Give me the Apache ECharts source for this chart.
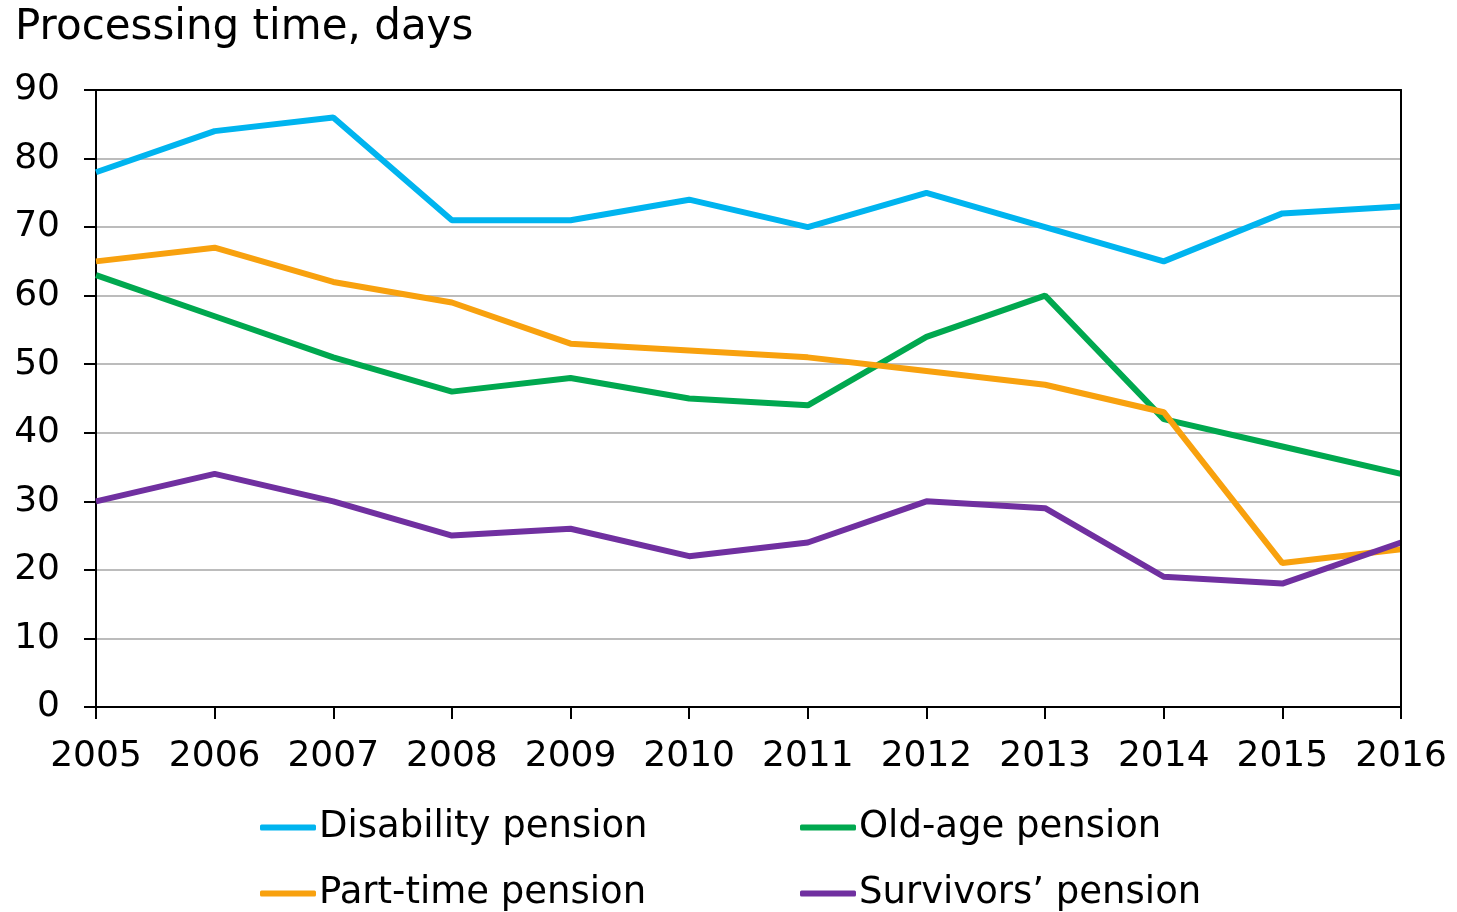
<!DOCTYPE html>
<html>
<head>
<meta charset="utf-8">
<script src="https://cdn.jsdelivr.net/npm/echarts@6/dist/echarts.min.js"></script>
<style>
html,body{margin:0;padding:0;background:#fff;}
#chart{width:1457px;height:912px;}
</style>
</head>
<body>
<div id="chart"></div>
<script>
var years = ['2005','2006','2007','2008','2009','2010','2011','2012','2013','2014','2015','2016'];
var disability = [78, 84, 86, 71, 71, 74, 70, 75, 70, 65, 72, 73];
var oldAge     = [63, 57, 51, 46, 48, 45, 44, 54, 60, 42, 38, 34];
var partTime   = [65, 67, 62, 59, 53, 52, 51, 49, 47, 43, 21, 23];
var survivors  = [30, 34, 30, 25, 26, 22, 24, 30, 29, 19, 18, 24];
var seriesNames = ['Disability pension', 'Old-age pension', 'Part-time pension', 'Survivors\u2019 pension'];
var seriesColors = ['#00b4ef', '#00a84f', '#f8a10e', '#7030a0'];
var yTicks = { min: 0, max: 90, interval: 10 };

var FONT = 'DejaVu Sans';
var FS = 36;
var chart = echarts.init(document.getElementById('chart'));

function mkSeries(i, data) {
  return {
    name: seriesNames[i], type: 'line', data: data, symbol: 'none',
    xAxisIndex: 0, yAxisIndex: 0,
    lineStyle: { color: seriesColors[i], width: 6 },
    itemStyle: { color: seriesColors[i] }
  };
}
function mkLegend(i, left, top) {
  return {
    data: [seriesNames[i]], left: left, top: top, icon: 'roundRect', padding: 0,
    itemWidth: 56, itemHeight: 6, itemGap: 0,
    textStyle: { fontFamily: FONT, fontSize: 37, color: '#000', padding: [0, 0, 0, -2] }
  };
}

chart.setOption({
  animation: false,
  backgroundColor: '#fff',
  title: {
    text: 'Processing time, days', left: 10, top: 2,
    textStyle: { fontFamily: FONT, fontSize: 42, fontWeight: 'normal', color: '#000' }
  },
  grid: { left: 96, right: 56, top: 90, bottom: 205 },
  legend: [
    mkLegend(0, 260, 809),
    mkLegend(1, 800, 809),
    mkLegend(2, 260, 875),
    mkLegend(3, 800, 875)
  ],
  xAxis: [{
    type: 'category', data: years, boundaryGap: false,
    axisLine: { lineStyle: { color: '#000', width: 2 } },
    axisTick: { show: true, interval: 0, length: 12, lineStyle: { color: '#000', width: 2 } },
    axisLabel: { interval: 0, fontFamily: FONT, fontSize: FS, color: '#000', margin: 32 },
    splitLine: { show: false }
  }, {
    type: 'category', data: years, boundaryGap: false, position: 'top', z: 10,
    axisLine: { show: true, onZero: false, lineStyle: { color: '#000', width: 2 } },
    axisTick: { show: false }, axisLabel: { show: false }, splitLine: { show: false }
  }],
  yAxis: [{
    type: 'value', min: yTicks.min, max: yTicks.max, interval: yTicks.interval,
    axisLine: { show: true, lineStyle: { color: '#000', width: 2 } },
    axisTick: { show: true, length: 12, lineStyle: { color: '#000', width: 2 } },
    axisLabel: { fontFamily: FONT, fontSize: FS, color: '#000', margin: 36 },
    splitLine: { show: true, showMaxLine: false, showMinLine: false, lineStyle: { color: '#a6a6a6', width: 1.5 } }
  }, {
    type: 'value', min: yTicks.min, max: yTicks.max, interval: yTicks.interval, position: 'right', z: 10,
    axisLine: { show: true, onZero: false, lineStyle: { color: '#000', width: 2 } },
    axisTick: { show: false }, axisLabel: { show: false }, splitLine: { show: false }
  }],
  series: [
    mkSeries(0, disability),
    mkSeries(1, oldAge),
    mkSeries(2, partTime),
    mkSeries(3, survivors)
  ]
});
</script>
</body>
</html>
